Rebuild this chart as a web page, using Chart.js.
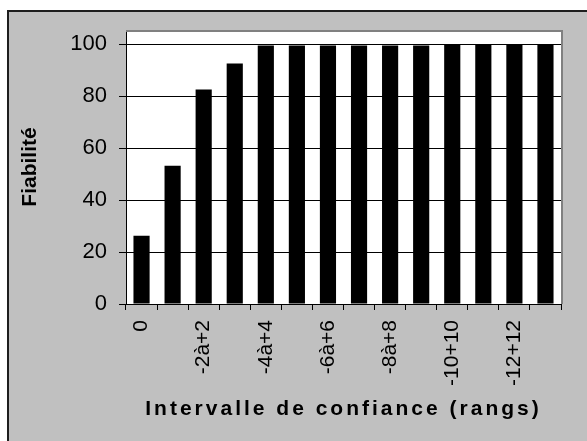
<!DOCTYPE html>
<html>
<head>
<meta charset="utf-8">
<script src="https://cdn.jsdelivr.net/npm/chart.js@4.4.1/dist/chart.umd.min.js"></script>
<style>
    html, body { margin: 0; padding: 0; background: #ffffff; overflow: hidden; }
    #chart { position: absolute; left: 0; top: 0; }
</style>
</head>
<body>
<canvas id="chart" width="587" height="441"></canvas>
<script>
// Intervalles de confiance (every other label is shown on the axis)
const intervals = ['0', '-1à+1', '-2à+2', '-3à+3', '-4à+4', '-5à+5', '-6à+6',
    '-7à+7', '-8à+8', '-9à+9', '-10+10', '-11+11', '-12+12', '-13+13'];
// Fiabilité (%)
const reliability = [26.3, 53.2, 82.6, 92.6, 99.5, 99.5, 99.5, 99.5, 99.5, 99.5, 100, 100, 100, 100];
const yTicks = [0, 20, 40, 60, 80, 100];

Chart.defaults.font.family = "'Liberation Sans', Arial, sans-serif";
Chart.defaults.color = '#000000';

// grey chart box, white plot area, grey frame on top/right of the plot
const plotFrame = {
    id: 'plotFrame',
    beforeDraw(chart) {
        const { ctx, chartArea: a, width, height } = chart;
        ctx.save();
        ctx.fillStyle = '#ffffff';
        ctx.fillRect(0, 0, width, height);
        ctx.fillStyle = '#c0c0c0';
        ctx.fillRect(7, 10, width - 7, height - 10);
        ctx.fillStyle = '#1e1e1e';
        ctx.fillRect(7, 10, 2, height - 10);
        ctx.fillRect(7, 10, width - 7, 2);
        ctx.fillStyle = '#ffffff';
        ctx.fillRect(a.left, a.top, a.right - a.left, a.bottom - a.top);
        ctx.restore();
        ctx.letterSpacing = '0px';
    },
    afterDatasetsDraw(chart) {
        // x axis title is drawn after the bars (x grid layer z = 1), with wide spacing
        chart.ctx.letterSpacing = '3px';
    },
    afterDraw(chart) {
        const { ctx, chartArea: a } = chart;
        ctx.letterSpacing = '0px';
        ctx.save();
        ctx.strokeStyle = '#808080';
        ctx.lineWidth = 2;
        ctx.beginPath();
        ctx.moveTo(a.left, a.top + 1);
        ctx.lineTo(a.right + 1, a.top + 1);
        ctx.lineTo(a.right + 1, a.bottom);
        ctx.stroke();
        ctx.restore();
    }
};

const ctx = document.getElementById('chart').getContext('2d');
const chart = new Chart(ctx, {
    type: 'bar',
    data: {
        labels: intervals,
        datasets: [{
            label: 'Fiabilité',
            data: reliability,
            backgroundColor: '#000000',
            borderWidth: 0,
            barPercentage: 0.52,
            categoryPercentage: 1
        }]
    },
    options: {
        responsive: false,
        animation: false,
        layout: { padding: { top: 30, right: 26, left: 0, bottom: 0 } },
        plugins: {
            legend: { display: false },
            tooltip: { enabled: false }
        },
        scales: {
            x: {
                afterFit: (scale) => { scale.height = 137; },
                grid: {
                    display: true,
                    drawOnChartArea: false,
                    color: '#000000',
                    tickLength: 6,
                    z: 1
                },
                border: { color: '#000000', width: 1, z: 1 },
                ticks: {
                    autoSkip: false,
                    minRotation: 90,
                    maxRotation: 90,
                    padding: 10,
                    font: { size: 21 },
                    callback: function (value, index) {
                        return index % 2 === 0 ? this.getLabelForValue(value) : '';
                    }
                },
                title: {
                    display: true,
                    text: 'Intervalle de confiance (rangs)',
                    font: { size: 21, weight: 'bold' },
                    padding: { top: 0, bottom: 19 }
                }
            },
            y: {
                min: 0,
                max: 105.5,
                afterFit: (scale) => { scale.width = 126; },
                afterBuildTicks: (scale) => {
                    scale.ticks = yTicks.map(v => ({ value: v }));
                },
                grid: { color: '#000000', tickLength: 7 },
                border: { color: '#000000', width: 1 },
                ticks: {
                    stepSize: 20,
                    includeBounds: false,
                    padding: 12,
                    font: { size: 22 }
                },
                title: {
                    display: true,
                    text: 'Fiabilité',
                    font: { size: 21, weight: 'bold' },
                    padding: { top: 18, bottom: 0 }
                }
            }
        }
    },
    plugins: [plotFrame]
});
</script>
</body>
</html>
